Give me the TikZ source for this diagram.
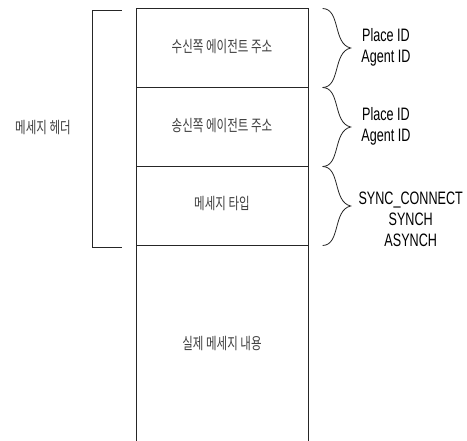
\documentclass[tikz,border=0pt]{standalone}
\usepackage{fontspec}
\setmainfont{Liberation Sans}
\newfontfamily\kr{Noto Sans CJK KR}
\usetikzlibrary{calc}
\newcommand{\nar}[1]{\scalebox{0.7}[1]{#1}}
\newcommand{\narkr}[1]{\scalebox{0.72}[1]{#1}}
\tikzset{
  ln/.style={draw=black!85, line width=0.8pt},
  krtext/.style={inner sep=0pt, text=black!75, font=\kr\fontsize{16}{19}\selectfont},
  entext/.style={inner sep=0pt, text=black, font=\fontsize{18}{21}\selectfont},
}
\newcommand{\mybrace}[3]{% x0, ytop, ybot
  \draw[ln] (#1,#2) .. controls ($(#1,#2)+(18,0.5)$) and ($(#1,{(#2+#3)/2})+(10,-4)$) .. ($(#1,{(#2+#3)/2})+(28,0)$)
            .. controls ($(#1,{(#2+#3)/2})+(10,4)$) and ($(#1,#3)+(18,-0.5)$) .. (#1,#3);
}
\begin{document}
\begin{tikzpicture}[x=1pt,y=-1pt]
\useasboundingbox[fill=white] (0,0) rectangle (467,441);
% box
\coordinate (tl) at (136,8.5);
\coordinate (tr) at (308,8.5);
\coordinate (bl) at (136,441);
\coordinate (br) at (308,441);
\coordinate (l1) at (136,87.5);
\coordinate (r1) at (308,87.5);
\coordinate (l2) at (136,166.5);
\coordinate (r2) at (308,166.5);
\coordinate (l3) at (136,245.5);
\coordinate (r3) at (308,245.5);
\draw[ln] (bl) -- (tl) -- (tr) -- (br);
\draw[ln] (l1) -- (r1);
\draw[ln] (l2) -- (r2);
\draw[ln] (l3) -- (r3);
% left bracket
\coordinate (b1) at (121.7,10.5);
\coordinate (b2) at (92.7,10.5);
\coordinate (b3) at (92.7,247);
\coordinate (b4) at (121.7,247);
\draw[ln] (b1) -- (b2) -- (b3) -- (b4);
% texts
\node[krtext] (h) at (43,127.7) {\narkr{메세지 헤더}};
\node[krtext] (r) at (222,46.7) {\narkr{수신쪽 에이전트 주소}};
\node[krtext] (s) at (222,126) {\narkr{송신쪽 에이전트 주소}};
\node[krtext] (t) at (222,204) {\narkr{메세지 타입}};
\node[krtext] (c) at (222,343.3) {\narkr{실제 메세지 내용}};
% braces
\mybrace{322.7}{8.5}{87.5}
\mybrace{322.7}{87.5}{166.5}
\mybrace{322.7}{166.5}{245.5}
\node[entext] (p1) at (386,47.5) {\nar{\begin{tabular}{@{}c@{}}Place ID\\Agent ID\end{tabular}}};
\node[entext] (p2) at (386,126.5) {\nar{\begin{tabular}{@{}c@{}}Place ID\\Agent ID\end{tabular}}};
\node[entext] (p3) at (410.7,221) {\nar{\begin{tabular}{@{}c@{}}SYNC\_CONNECT\\SYNCH\\ASYNCH\end{tabular}}};
\end{tikzpicture}
\end{document}
